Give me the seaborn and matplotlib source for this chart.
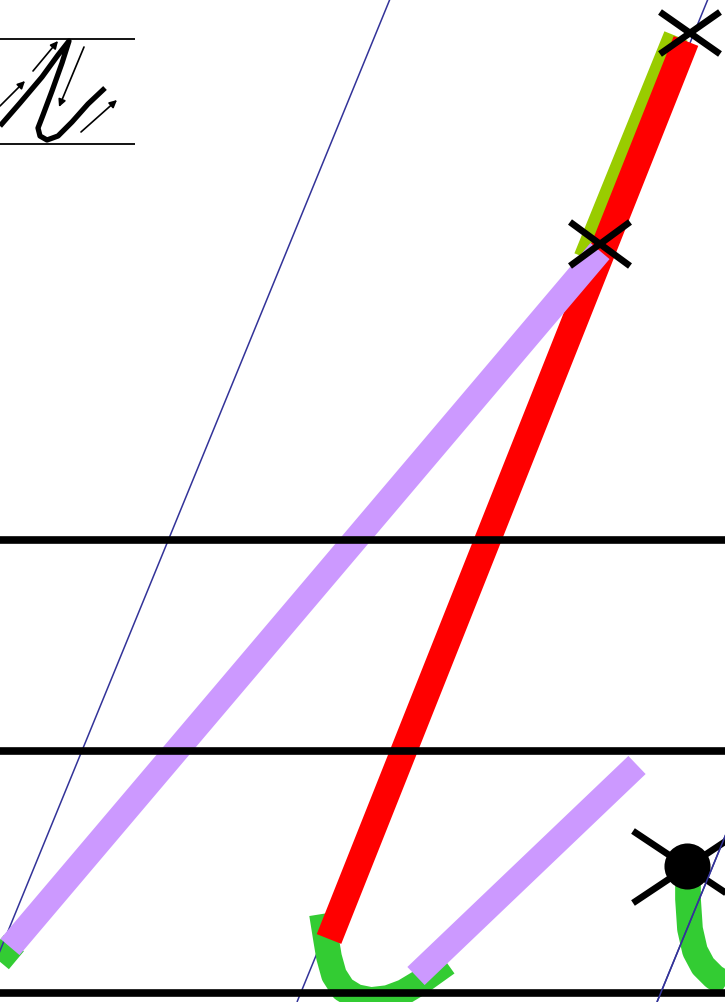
import numpy as np
import pandas as pd
import matplotlib
matplotlib.use("Agg")
import matplotlib.pyplot as plt
import seaborn as sns

# --- réglure (pixels de l'image) ---
rule_y = [541, 752, 994]
slant_top_x = [390, 708, 1069]      # x des obliques en y = 0
slant_bottom_x = [-21, 297, 657]    # x des obliques en y = 1003
slant_z = [3, 1, 3]

# --- tracés de la lettre ---
lime_x = [676, 586]
lime_y = [37, 259]

red_x = [686, 329]
red_y = [42, 940]

purple1_x = [10, 600]
purple1_y = [948, 252]

purple2_x = [416, 637]
purple2_y = [977, 766]

green_u_x = [322, 326, 329, 334, 343, 356, 371, 388, 404, 419, 433, 447]
green_u_y = [915, 940, 958, 976, 990, 998, 1001, 999, 993, 984, 974, 964]

green_left_x = [14, 4, -6]
green_left_y = [944, 956, 968]

green_right_x = [688, 688, 690, 695, 703, 714, 730]
green_right_y = [872, 900, 930, 952, 967, 978, 988]

# croix (centre, demi-largeur, demi-hauteur)
cross_cx = [690, 600, 687]
cross_cy = [34, 245, 868]
cross_dx = [30, 30, 54]
cross_dy = [21, 22, 36]

dot_x = [687]
dot_y = [867]

# --- modèle en haut à gauche ---
model_rule_y = [40, 145]
model_x = [0, 20, 42, 58, 69, 62, 52, 43, 38, 40, 47, 58, 72, 88, 105]
model_y = [127, 104, 78, 56, 42, 64, 92, 116, 129, 137, 141, 137, 123, 105, 89]
arrow_tail = [(33, 72), (0, 107), (84, 48), (81, 133)]
arrow_head = [(58, 42), (25, 82), (59, 108), (117, 101)]

sns.set_style("white")
fig = plt.figure(figsize=(7.25, 10.03), dpi=100)
ax = fig.add_axes([0, 0, 1, 1])


def stroke(xs, ys, color, lw, z):
    sns.lineplot(x=xs, y=ys, sort=False, estimator=None, color=color,
                 linewidth=lw, solid_capstyle="butt", solid_joinstyle="round",
                 ax=ax, zorder=z)


# obliques bleues
for xt, xb, z in zip(slant_top_x, slant_bottom_x, slant_z):
    stroke([xt, xb], [0, 1003], "#333399", 1.1, z)

# vert
stroke(green_u_x, green_u_y, "#33cc33", 18.5, 2)
stroke(green_left_x, green_left_y, "#33cc33", 18.5, 2)
stroke(green_right_x, green_right_y, "#33cc33", 18.5, 2)

# traits principaux
stroke(lime_x, lime_y, "#99cc00", 18, 4)
stroke(red_x, red_y, "#ff0000", 19, 5)
stroke(purple1_x, purple1_y, "#cc99ff", 18, 6)
stroke(purple2_x, purple2_y, "#cc99ff", 18, 6)

# lignes horizontales
for y in rule_y:
    stroke([0, 725], [y, y], "black", 5.5, 7)

# croix
for cx, cy, dx, dy in zip(cross_cx, cross_cy, cross_dx, cross_dy):
    stroke([cx - dx, cx + dx], [cy - dy, cy + dy], "black", 4.8, 8)
    stroke([cx - dx, cx + dx], [cy + dy, cy - dy], "black", 4.8, 8)
sns.scatterplot(x=dot_x, y=dot_y, s=1100, color="black", linewidth=0,
                ax=ax, zorder=8)
stroke([slant_top_x[2], slant_bottom_x[2]], [0, 1003], "#333399", 1.1, 9)

# modèle
for y in model_rule_y:
    stroke([0, 135], [y, y], "black", 1.3, 7)
stroke(model_x, model_y, "black", 3.8, 7)
for t, h in zip(arrow_tail, arrow_head):
    ax.annotate("", xy=h, xytext=t,
                arrowprops=dict(arrowstyle="-|>", color="black", lw=1.2,
                                mutation_scale=11, shrinkA=0, shrinkB=0),
                zorder=7)

ax.set_xlim(0, 725)
ax.set_ylim(1003, 0)
ax.axis("off")
fig.savefig("out.png", dpi=100)
